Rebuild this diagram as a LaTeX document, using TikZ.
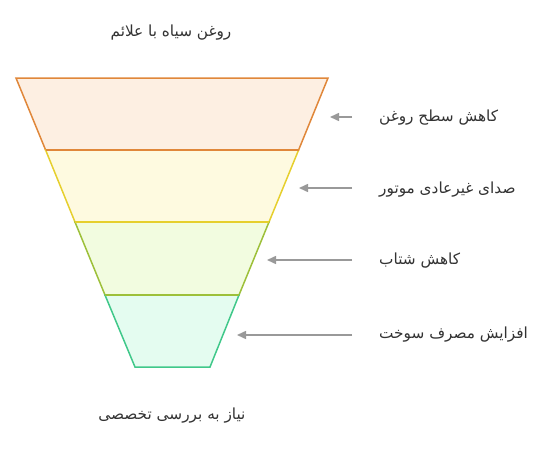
\documentclass[tikz,border=0pt]{standalone}
\usepackage{fontspec}
\TeXXeTstate=1
\newfontfamily\arabicfont[Script=Arabic]{DejaVu Sans}
\usetikzlibrary{arrows.meta}
\definecolor{oneS}{HTML}{E0873A}\definecolor{oneF}{HTML}{FDEFE2}
\definecolor{twoS}{HTML}{E6CF2E}\definecolor{twoF}{HTML}{FEFAE0}
\definecolor{thrS}{HTML}{9DC03A}\definecolor{thrF}{HTML}{F2FCE0}
\definecolor{fouS}{HTML}{40C88A}\definecolor{fouF}{HTML}{E4FCF0}
\definecolor{arrg}{HTML}{999999}
\definecolor{txtg}{HTML}{333333}
\tikzset{
  layer/.style={line width=1.5pt, line join=miter},
  lbl/.style={anchor=west, inner sep=0pt, text=txtg, font=\arabicfont\fontsize{15.3}{17}\selectfont},
  ttl/.style={inner sep=0pt, text=txtg, font=\arabicfont\fontsize{15.3}{17}\selectfont},
  pointer/.style={draw=arrg, line width=1.5pt, -{Triangle[length=9pt,width=8pt]}}
}
\begin{document}
\begin{tikzpicture}[x=1pt,y=-1pt]
\useasboundingbox (0,0) rectangle (547,453);
% layers
\draw[layer, draw=oneS, fill=oneF] (16,78) -- (328,78) -- (298.6,150) -- (45.6,150) -- cycle;
\draw[layer, draw=twoS, fill=twoF] (45.6,150) -- (298.6,150) -- (269,222) -- (75,222) -- cycle;
\draw[layer, draw=thrS, fill=thrF] (75,222) -- (269,222) -- (239,295) -- (105,295) -- cycle;
\draw[layer, draw=fouS, fill=fouF] (105,295) -- (239,295) -- (210,367) -- (135,367) -- cycle;
\draw[draw=oneS, line width=1.5pt] (45.6,150) -- (298.6,150);
\draw[draw=twoS, line width=1.5pt] (75,222) -- (269,222);
\draw[draw=thrS, line width=1.5pt] (105,295) -- (239,295);
% titles
\node[ttl] (top) at (171,33) {\beginR روغن سیاه با علائم\endR};
\node[ttl] (bot) at (172,416) {\beginR نیاز به بررسی تخصصی\endR};
% labels
\node[lbl] (l1) at (379,118) {\beginR کاهش سطح روغن\endR};
\node[lbl] (l2) at (379,190) {\beginR صدای غیرعادی موتور\endR};
\node[lbl] (l3) at (379,261) {\beginR کاهش شتاب\endR};
\node[lbl] (l4) at (379,335) {\beginR افزایش مصرف سوخت\endR};
\coordinate (t1) at (330,117);
\coordinate (t2) at (299,188);
\coordinate (t3) at (267,260);
\coordinate (t4) at (237,335);
\coordinate (s1) at (352,117);
\coordinate (s2) at (352,188);
\coordinate (s3) at (352,260);
\coordinate (s4) at (352,335);
\draw[pointer] (s1) -- (t1);
\draw[pointer] (s2) -- (t2);
\draw[pointer] (s3) -- (t3);
\draw[pointer] (s4) -- (t4);
\end{tikzpicture}
\end{document}
